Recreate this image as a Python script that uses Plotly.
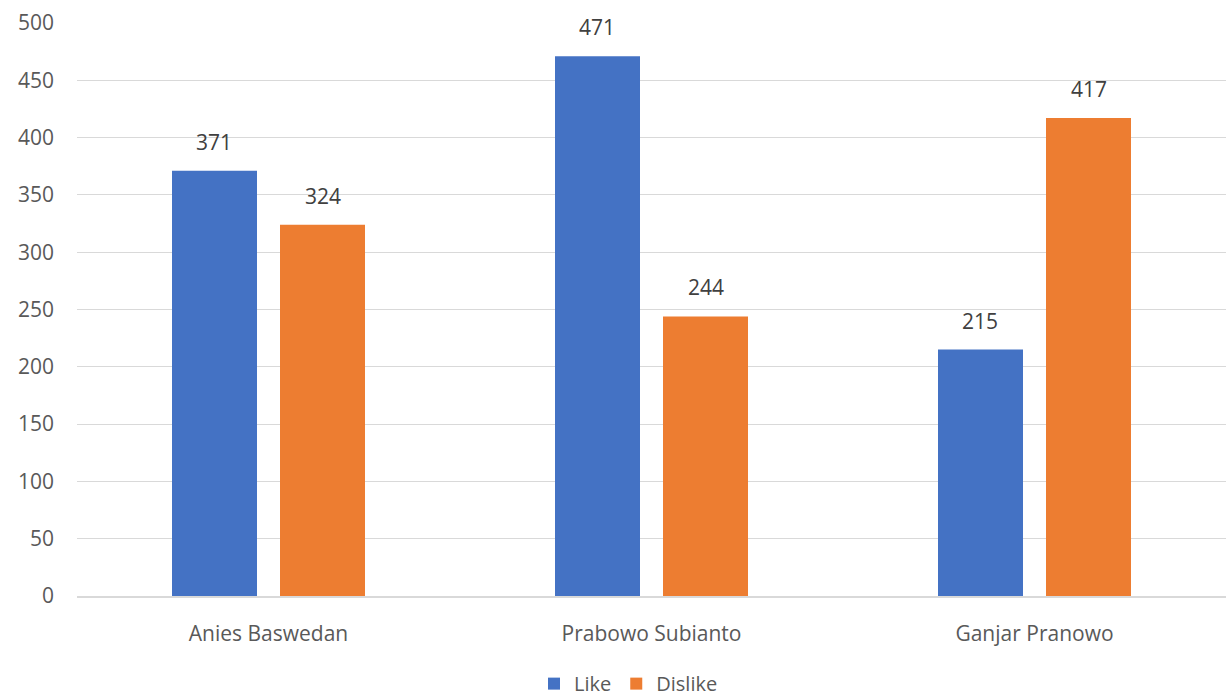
import plotly.graph_objects as go

categories = ["Anies Baswedan", "Prabowo Subianto", "Ganjar Pranowo"]
like_values = [371, 471, 215]
dislike_values = [324, 244, 417]
y_ticks = [0, 50, 100, 150, 200, 250, 300, 350, 400, 450, 500]

FONT = "Open Sans"
TXT = "#595959"
FS = 21

fig = go.Figure()
fig.add_trace(go.Bar(name="Like", x=categories, y=like_values,
                     marker=dict(color="#4472C4", line=dict(width=0))))
fig.add_trace(go.Bar(name="Dislike", x=categories, y=dislike_values,
                     marker=dict(color="#ED7D31", line=dict(width=0))))

for vals, shift in ((like_values, -55), (dislike_values, 54)):
    for c, v in zip(categories, vals):
        fig.add_annotation(x=c, y=v, xref="x", yref="y", text=str(v),
                           showarrow=False, xshift=shift, yshift=13,
                           yanchor="bottom",
                           font=dict(family=FONT, size=FS, color="#404040"))

fig.update_layout(
    width=1226, height=699,
    margin=dict(l=77, r=0, t=23, b=103, autoexpand=False),
    paper_bgcolor="white", plot_bgcolor="white",
    barmode="group", bargap=0.436, bargroupgap=0.213,
    font=dict(family=FONT, size=FS, color=TXT),
    legend=dict(orientation="h", x=0.48, xanchor="center",
                y=0.022, yref="container", yanchor="middle",
                font=dict(family=FONT, size=20, color=TXT),
                itemclick=False, itemwidth=30, tracegroupgap=0),
    xaxis=dict(showgrid=False, showline=True, linecolor="#D9D9D9", linewidth=1.5,
               ticks="", ticklabelstandoff=18,
               tickfont=dict(family=FONT, size=FS, color=TXT)),
    yaxis=dict(range=[0, 500], tickvals=y_ticks, showgrid=True,
               gridcolor="#D9D9D9", gridwidth=1.2, zeroline=False,
               showline=False, ticks="", ticklabelstandoff=22,
               tickfont=dict(family=FONT, size=FS, color=TXT)),
)

fig.write_html("out.html")
